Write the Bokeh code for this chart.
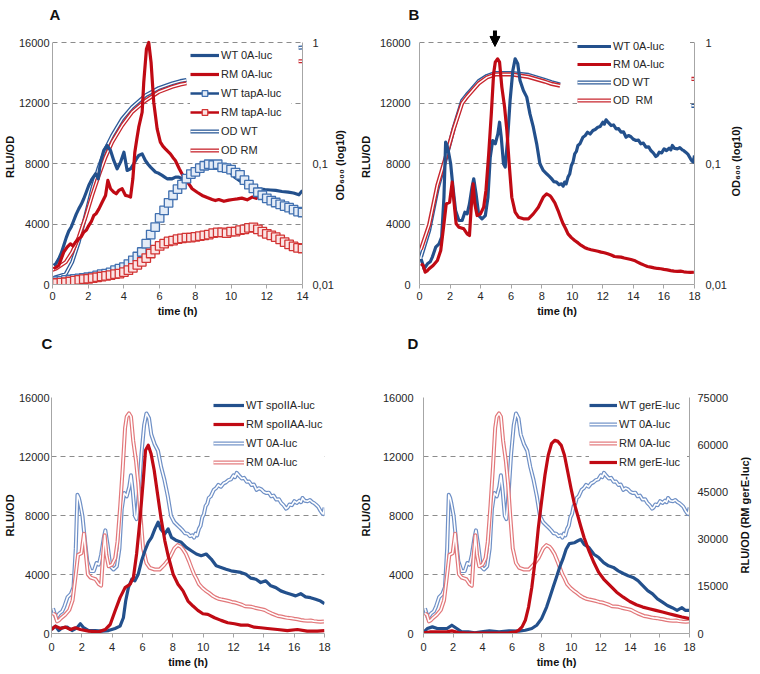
from bokeh.plotting import figure
from bokeh.models import (Range1d, LinearAxis, LogAxis, LogScale, FixedTicker, Legend,
                          LegendItem, Arrow, NormalHead, NumeralTickFormatter, CustomJSTickFormatter)
from bokeh.layouts import row, column
from bokeh.embed import file_html
from bokeh.resources import INLINE
import math

NAN = float("nan")

# ---------------- data ----------------
Y_TICKS = [0, 4000, 8000, 12000, 16000]
GRID_TICKS = [4000, 8000, 12000, 16000]
X_TICKS_A = [0, 2, 4, 6, 8, 10, 12, 14]
X_TICKS_18 = [0, 2, 4, 6, 8, 10, 12, 14, 16, 18]
OD_TICKS = [0.01, 0.1, 1]
R_TICKS_D = [0, 15000, 30000, 45000, 60000, 75000]

# Panel A
A_WT0A_T = [0.07,0.2,0.35,0.5,0.63,0.77,0.91,1.05,1.19,1.33,1.47,1.61,1.75,1.89,2.03,2.22,2.41,2.56,2.69,2.87,
            3.06,3.25,3.43,3.62,3.81,4.0,4.18,4.37,4.55,4.7,4.83,5.02,5.2,5.35,5.49,5.63,5.77,5.95,6.14,6.28,
            6.42,6.56,6.7,6.89,7.07,7.26,7.5,7.8,8.1,8.4,8.7,9.0,9.3,9.6,9.9,10.2,10.6,10.9,11.2,11.55,
            11.9,12.2,12.5,12.85,13.2,13.5,13.8,14.0]
A_WT0A = [1260,1400,1700,2100,2580,3100,3530,3800,4230,4650,5000,5300,5670,6100,6550,6990,7320,6990,8090,8860,
          9190,8860,8200,7650,8090,8750,7540,7650,7980,8300,8530,8640,8200,7950,7760,7600,7430,7350,7210,7100,
          6990,7000,6990,7100,7100,6990,7050,7150,7300,7650,7800,7900,7870,7750,7500,7100,6770,6550,6450,6330,
          6280,6250,6220,6150,6110,6050,5930,6220]
A_RM0A_T = [0.07,0.35,0.63,0.82,1.0,1.15,1.29,1.47,1.6,1.75,1.9,2.03,2.17,2.31,2.45,2.6,2.78,2.97,3.1,3.25,
            3.43,3.57,3.71,3.9,4.09,4.23,4.37,4.5,4.61,4.72,4.83,5.02,5.11,5.26,5.39,5.52,5.67,5.86,6.04,6.18,
            6.32,6.46,6.6,6.74,6.88,7.1,7.3,7.55,7.82,8.1,8.38,8.66,8.94,9.12,9.31,9.6,9.87,10.1,10.35,10.6,
            10.9,11.18,11.4,11.55,11.8]
A_RM0A = [1040,1260,2140,2470,2690,2550,2800,3020,3150,3460,3600,3900,4150,4560,4700,5000,5440,5890,6880,6330,
          6110,6000,6220,6330,5890,5850,5780,6990,8750,9600,10400,11390,13370,15570,16000,14690,12040,10290,9410,9150,
          8970,8800,8640,8400,8200,7650,7200,6800,6330,6100,5890,5750,5620,5550,5620,5500,5580,5620,5660,5710,
          5600,5780,5700,5890,5850]
SQ_T = [0,0.25,0.5,0.75,1,1.25,1.5,1.75,2,2.25,2.5,2.75,3,3.25,3.5,3.75,4,4.25,4.5,4.75,5,5.25,5.5,5.75,6,6.25,
        6.5,6.75,7,7.25,7.5,7.75,8,8.25,8.5,8.75,9,9.25,9.5,9.75,10,10.25,10.5,10.75,11,11.25,11.5,11.75,12,12.25,
        12.5,12.75,13,13.25,13.5,13.75,14]
A_WT_TAPA = [200,220,240,300,330,370,400,430,480,520,600,680,720,800,950,1050,1150,1350,1600,1850,
             2150,2700,3300,3800,4400,4900,5400,5900,6300,6600,7000,7300,7450,7700,7850,7950,7900,7950,7750,7700,
             7600,7400,7250,6900,6600,6350,6100,5900,5700,5550,5420,5300,5180,5080,4950,4820,4760]
A_RM_TAPA = [50,100,120,150,200,250,300,350,380,420,480,530,570,620,680,720,820,950,1100,1300,
             1500,1750,2050,2300,2550,2700,2850,2900,3000,3050,3100,3100,3150,3200,3250,3300,3400,3450,3450,3400,
             3500,3500,3600,3650,3750,3780,3650,3500,3350,3250,3130,2980,2800,2650,2520,2420,2380]
# OD traces: visible left of the legend, and again at the right frame edge
A_OD_T = [0.0,0.18,0.74,1.1,1.47,1.85,2.22,2.59,2.97,3.34,3.9,4.45,5.2,5.95,6.7,7.16,7.5,NAN,13.78,14]
A_OD_WT = [0.0112,0.0115,0.0122,0.0153,0.0224,0.0372,0.0617,0.0932,0.132,0.17,0.234,0.292,0.365,0.42,0.46,0.48,
           0.49,NAN,0.905,0.91]
A_OD_RM = [0.0132,0.0135,0.0153,0.0185,0.0246,0.036,0.0545,0.0794,0.113,0.15,0.206,0.265,0.33,0.39,0.43,0.45,
           0.46,NAN,0.70,0.70]

# Panels B, C, D (shared 0A-luc traces)
WT0A_T = [0.1,0.3,0.52,0.7,0.84,1.06,1.28,1.45,1.6,1.71,1.8,1.88,2.04,2.19,2.36,2.58,2.79,2.97,3.12,3.27,
          3.44,3.55,3.7,3.88,4.09,4.31,4.48,4.63,4.79,4.96,5.13,5.24,5.35,5.5,5.61,5.76,5.93,6.11,6.26,6.43,
          6.58,6.8,7.02,7.23,7.45,7.67,7.88,8.1,8.32,8.5,8.64,8.8,8.97,9.13,9.29,9.4,9.5,9.6,9.72,9.83,
          9.94,10.05,10.16,10.27,10.37,10.5,10.7,10.85,11.0,11.17,11.35,11.5,11.67,11.83,12.0,12.1,12.21,12.37,12.54,12.7,
          12.87,13.03,13.19,13.35,13.52,13.68,13.84,14.0,14.17,14.33,14.49,14.65,14.82,15.0,15.14,15.3,15.47,15.58,15.69,15.85,
          16.01,16.17,16.34,16.45,16.55,16.7,16.88,17.04,17.2,17.3,17.42,17.58,17.74,17.85,17.92,18.0]
WT0A = [1700,1040,1370,1500,1810,2470,2690,3130,5770,9410,9200,8860,7980,6440,4890,4230,4230,4780,4670,5330,
        6440,6990,6000,4560,4340,4560,5770,8420,9520,9300,9960,10730,9740,7980,7760,9520,12170,14150,14920,14590,
        13490,12830,12390,11280,10400,9300,7980,7540,7320,7150,7000,6800,6770,6600,6660,6500,6770,6650,7100,7300,
        7870,8100,8640,8800,9190,9300,9740,9850,10070,9950,10180,10250,10400,10450,10730,10600,10890,10700,10510,10550,
        10290,10300,10070,10100,9740,9850,9770,9600,9520,9550,9300,9350,9080,9100,8860,8700,8460,8550,8750,8700,
        8970,8850,9010,8900,9190,9000,8970,9050,8900,8850,8750,8600,8310,8150,8100,8530]
RM0A_T = [0.1,0.24,0.37,0.5,0.63,0.89,1.17,1.39,1.6,1.75,1.97,2.14,2.25,2.4,2.58,2.9,3.12,3.27,3.4,3.51,
          3.62,3.77,3.99,4.2,4.35,4.53,4.7,4.85,4.96,5.11,5.24,5.39,5.57,5.72,5.87,6.04,6.26,6.48,6.8,7.13,
          7.45,7.78,8.1,8.32,8.53,8.64,8.86,9.07,9.23,9.4,9.56,9.72,9.94,10.16,10.38,10.59,10.8,11.0,11.23,11.46,
          11.68,11.89,12.1,12.32,12.55,12.76,12.98,13.19,13.4,13.62,13.84,14.06,14.27,14.49,14.7,14.92,15.14,15.36,15.57,15.79,
          16.0,16.22,16.44,16.66,16.88,17.09,17.3,17.52,17.74,17.96]
RM0A = [1370,1260,820,900,1040,1260,1590,2250,4010,5330,5440,6770,5550,4010,3790,3680,3350,3240,5330,6660,
        5330,4560,4670,5110,6220,8640,11280,13930,14700,14920,14700,13050,11720,10180,7980,5770,4780,4450,4340,4340,
        4670,5110,5770,5990,5880,5750,5400,4890,4450,4010,3700,3350,3100,2910,2750,2580,2450,2360,2300,2250,
        2200,2140,2100,2030,1950,1850,1830,1810,1750,1700,1650,1590,1480,1370,1280,1190,1150,1100,1060,1040,
        1000,970,920,880,870,880,840,810,800,810]
B_OD_T = [0.09,0.63,1.17,1.71,2.25,2.79,3.1,3.34,3.88,4.42,4.96,6.04,7.13,8.21,8.65,9.2,NAN,17.8,18]
B_OD_WT = [0.0168,0.028,0.061,0.108,0.198,0.33,0.37,0.40,0.48,0.53,0.56,0.56,0.54,0.49,0.47,0.45,NAN,0.30,0.30]
B_OD_RM = [0.0195,0.031,0.066,0.112,0.195,0.315,0.355,0.385,0.46,0.515,0.545,0.545,0.52,0.475,0.455,0.44,NAN,0.50,0.50]
ARROW_T = 4.94
ARROW_Y = [16790, 15740]

C_WTSPO_T = [0,0.26,0.48,0.7,1.03,1.35,1.68,1.9,2.12,2.45,2.88,3.32,3.76,4.19,4.52,4.74,4.89,5.07,5.29,5.5,
             5.72,5.94,6.16,6.38,6.6,6.82,7.03,7.2,7.47,7.69,7.91,8.24,8.56,8.89,9.22,9.55,9.87,10.2,10.53,10.86,
             11.18,11.51,11.84,12.16,12.49,12.82,13.15,13.48,13.8,14.13,14.46,14.79,15.12,15.45,15.77,16.1,16.43,16.75,17.08,17.41,
             17.74,18.0]
C_WTSPO = [270,500,200,390,430,200,390,660,390,200,200,160,200,340,500,1070,2200,3110,3680,3570,
           4020,4930,5610,6180,6520,7090,7550,7090,6750,7090,6520,6300,6180,5840,5610,5390,5270,5390,5050,4590,
           4480,4360,4250,4200,4140,4020,3750,3680,3450,3570,3230,3110,2890,2770,2660,2550,2700,2480,2430,2320,
           2200,2020]
C_RMSPO_T = [0,0.26,0.59,0.92,1.25,1.57,1.9,2.45,3.1,3.54,3.87,4.19,4.52,4.85,5.18,5.4,5.61,5.83,6.05,6.2,
             6.38,6.56,6.77,6.99,7.21,7.47,7.69,8.02,8.34,8.67,9.0,9.33,9.65,9.98,10.31,10.75,11.18,11.62,12.06,12.49,
             12.93,13.37,13.8,14.24,14.9,15.55,16.21,16.86,17.52,18.0]
C_RMSPO = [270,500,340,430,270,390,270,160,110,270,610,1520,2430,3110,3340,3800,5390,7660,10390,12430,
           12770,12210,11070,9480,7890,6300,5270,4020,3340,2890,2200,1860,1570,1340,1300,1070,890,730,660,570,
           570,430,390,340,270,200,270,160,160,200]

D_WTGER_T = [0.04,0.26,0.6,0.93,1.26,1.59,1.92,2.25,2.58,3.03,3.47,3.91,4.46,5.12,5.79,6.45,6.89,7.33,7.66,7.99,
             8.33,8.55,8.77,8.99,9.21,9.43,9.65,9.87,10.2,10.42,10.64,10.87,11.2,11.53,11.86,12.19,12.52,12.85,13.18,13.52,
             13.85,14.18,14.51,14.84,15.17,15.5,15.83,16.17,16.5,16.83,17.16,17.49,17.71,18.0]
D_WTGER = [110,340,450,340,340,340,560,340,110,110,45,110,180,110,180,160,220,340,560,1010,
           1790,2460,3130,3800,4480,5040,5710,6090,6150,6270,6380,6040,5820,5370,5150,4810,4590,4480,4250,4070,
           3920,3800,3580,3250,2910,2690,2350,2130,1900,1750,1570,1750,1570,1570]
D_RMGER_T = [0.04,0.49,0.93,1.59,1.92,2.36,2.92,3.8,4.9,5.79,6.23,6.45,6.67,6.89,7.11,7.33,7.55,7.77,7.99,8.22,
             8.44,8.66,8.88,9.1,9.32,9.54,9.76,9.98,10.2,10.42,10.64,10.87,11.2,11.53,11.86,12.19,12.63,13.07,13.52,13.96,
             14.4,14.84,15.28,15.72,16.17,16.61,17.05,17.49,18.0]
D_RMGER = [210,520,520,520,840,310,100,100,100,210,520,1050,2100,4200,8390,14690,23080,33570,41960,50350,
           56650,60320,61370,61050,59790,56650,51400,46160,41440,37760,34090,30420,26230,22550,19410,17310,15210,13110,11540,10180,
           9130,8390,7870,7340,6820,6290,5770,5250,4720]

# ---------------- style ----------------
FONT = "Liberation Sans"
BLUE = "#23508C"
RED = "#C00A14"
OD_BLUE = "#2E5C9A"
OD_RED = "#C8262E"
LT_BLUE = "#6F90C6"
LT_RED = "#E2777A"
SQ_BLUE_LINE = "#4170B0"
SQ_BLUE_FILL = "#E4ECF7"
SQ_RED_LINE = "#D23434"
SQ_RED_FILL = "#FBE4E4"
GRID = "#8C8C8C"
AXIS = "#A6A6A6"
TXT = "#262626"
LBL = "#111111"


def style_axis(ax, tick_out, standoff, label=None, label_standoff=0):
    ax.axis_line_color = AXIS
    ax.major_tick_line_color = AXIS
    ax.major_tick_out = tick_out
    ax.major_tick_in = 0
    ax.minor_tick_line_color = None
    ax.major_label_standoff = standoff
    ax.major_label_text_font = FONT
    ax.major_label_text_font_size = "11px"
    ax.major_label_text_color = TXT
    if label is not None:
        ax.axis_label = label
        ax.axis_label_standoff = label_standoff
        ax.axis_label_text_font = FONT
        ax.axis_label_text_font_size = "11px"
        ax.axis_label_text_font_style = "bold"
        ax.axis_label_text_color = LBL


def make_fig(w, h, xmax, ytop, lb, rb, tb, bb, xstand, ystand, yls, xls, xticks):
    p = figure(width=w, height=h, x_range=Range1d(0, xmax), y_range=Range1d(0, ytop),
               output_backend="svg", toolbar_location=None,
               min_border_left=lb, min_border_right=rb, min_border_top=tb, min_border_bottom=bb)
    p.outline_line_color = None
    p.background_fill_color = "white"
    p.border_fill_color = "white"
    p.xgrid.visible = False
    p.ygrid.ticker = FixedTicker(ticks=GRID_TICKS)
    p.ygrid.grid_line_color = GRID
    p.ygrid.grid_line_dash = "5 4"
    p.xaxis.ticker = FixedTicker(ticks=xticks)
    p.yaxis.ticker = FixedTicker(ticks=Y_TICKS)
    p.yaxis.formatter = NumeralTickFormatter(format="0")
    p.yaxis.bounds = (0, 16000)
    style_axis(p.xaxis[0], 4, xstand, "time (h)", xls)
    style_axis(p.yaxis[0], 0, ystand, "RLU/OD", yls)
    return p


def letter(p, text, offset, standoff, nlines, line_height):
    p.title.text = text + "\n\u00a0" * (nlines - 1)
    p.title.align = "left"
    p.title.offset = offset
    p.title.standoff = standoff
    p.title.vertical_align = "top"
    p.title.text_font = FONT
    p.title.text_font_size = "15px"
    p.title.text_font_style = "bold"
    p.title.text_color = LBL
    p.title.text_line_height = line_height


def add_od_axis(p, standoff, od_top):
    p.extra_y_ranges = {"od": Range1d(0.01, od_top)}
    p.extra_y_scales = {"od": LogScale()}
    ax = LogAxis(y_range_name="od", ticker=FixedTicker(ticks=OD_TICKS), bounds=(0.01, 1),
                 formatter=CustomJSTickFormatter(code="return tick > 0.5 ? '1' : (tick > 0.05 ? '0,1' : '0,01');"))
    style_axis(ax, 0, standoff)
    p.add_layout(ax, "right")


def label_axis(p, text, start_value, standoff):
    # tick-less right axis whose single tick label is the bottom-to-top axis title,
    # starting at start_value (in the primary y units)
    ax = LinearAxis(ticker=FixedTicker(ticks=[start_value]),
                    formatter=CustomJSTickFormatter(code="return %r;" % text))
    style_axis(ax, 0, standoff)
    ax.axis_line_color = None
    ax.major_tick_line_color = None
    ax.major_label_orientation = math.pi / 2
    ax.major_label_text_font_style = "bold"
    ax.major_label_text_color = LBL
    p.add_layout(ax, "right")


def dline(p, t, v, color, w_out, w_in, **kw):
    r1 = p.line(t, v, line_color=color, line_width=w_out, line_join="round", **kw)
    r2 = p.line(t, v, line_color="white", line_width=w_in, line_join="round", **kw)
    return [r1, r2]


def add_legend(p, items, loc, pad, gw, gh, lw, spacing):
    lg = Legend(items=[LegendItem(label=l, renderers=r) for l, r in items], location=loc,
                padding=pad, spacing=spacing, glyph_width=gw, glyph_height=gh, label_height=gh,
                label_width=lw, label_standoff=2, label_text_font=FONT, label_text_font_size="11px",
                label_text_color=TXT, background_fill_color="white", background_fill_alpha=1.0,
                border_line_color=None, margin=0)
    p.add_layout(lg)


OD_LABEL = "OD\u2086\u2080\u2080 (log10)"
TOP_YMAX = 16860      # frames of the top row reach y=29 so the arrow above the 16000 line fits
TOP_ODMAX = 1.281

# ---------------- Panel A ----------------
pA = make_fig(356, 320, 14, TOP_YMAX, 52, 54, 29, 36, 3, 3, 0, 2, X_TICKS_A)
add_od_axis(pA, 10, TOP_ODMAX)
label_axis(pA, OD_LABEL, 5554, 4)
letter(pA, "A", -3, 10, 1, 1.0)
odw = dline(pA, A_OD_T, A_OD_WT, OD_BLUE, 4, 1.4, y_range_name="od")
odr = dline(pA, A_OD_T, A_OD_RM, OD_RED, 4, 1.4, y_range_name="od")
a1 = pA.line(A_WT0A_T, A_WT0A, line_color=BLUE, line_width=3.2, line_join="round")
a2 = pA.line(A_RM0A_T, A_RM0A, line_color=RED, line_width=3.2, line_join="round")
a3l = pA.line(SQ_T, A_WT_TAPA, line_color=BLUE, line_width=2.5)
a3s = pA.scatter(SQ_T, A_WT_TAPA, marker="square", size=8.5, fill_color=SQ_BLUE_FILL, line_color=SQ_BLUE_LINE, line_width=1.3)
a4l = pA.line(SQ_T, A_RM_TAPA, line_color=RED, line_width=2.5)
a4s = pA.scatter(SQ_T, A_RM_TAPA, marker="square", size=8.5, fill_color=SQ_RED_FILL, line_color=SQ_RED_LINE, line_width=1.3)
add_legend(pA, [("WT 0A-luc", [a1]), ("RM 0A-luc", [a2]), ("WT tapA-luc", [a3l, a3s]),
                ("RM tapA-luc", [a4l, a4s]), ("OD WT", odw), ("OD RM", odr)],
           (138, 127), 3, 29, 14, 70, 5)

# ---------------- Panel B ----------------
pB = make_fig(404, 320, 18, TOP_YMAX, 61, 66, 29, 36, 3, 9, 5, 2, X_TICKS_18)
add_od_axis(pB, 11, TOP_ODMAX)
label_axis(pB, OD_LABEL, 5818, 7)
letter(pB, "B", -11, 10, 1, 1.0)
bodw = dline(pB, B_OD_T, B_OD_WT, OD_BLUE, 4.2, 1.4, y_range_name="od")
bodr = dline(pB, B_OD_T, B_OD_RM, OD_RED, 4.2, 1.4, y_range_name="od")
b1 = pB.line(WT0A_T, WT0A, line_color=BLUE, line_width=3.2, line_join="round")
b2 = pB.line(RM0A_T, RM0A, line_color=RED, line_width=3.2, line_join="round")
add_legend(pB, [("WT 0A-luc", [b1]), ("RM 0A-luc", [b2]), ("OD WT", bodw), ("OD  RM", bodr)],
           (158, 178), 1, 34, 12, 77, 6)
pB.add_layout(Arrow(end=NormalHead(size=10, fill_color="black", line_color="black", line_width=1),
                    x_start=ARROW_T, y_start=ARROW_Y[0], x_end=ARROW_T, y_end=ARROW_Y[1],
                    line_width=4, line_color="black"))

# ---------------- Panel C ----------------
pC = make_fig(356, 354, 18, 16000, 49, 32, 77, 41, 5, 2, 0, 2, X_TICKS_18)
letter(pC, "C", -10, 13, 3, 1.1)
cw0 = dline(pC, WT0A_T, WT0A, LT_BLUE, 4, 1.6)
cr0 = dline(pC, RM0A_T, RM0A, LT_RED, 4, 1.6)
c1 = pC.line(C_WTSPO_T, C_WTSPO, line_color=BLUE, line_width=3.2, line_join="round")
c2 = pC.line(C_RMSPO_T, C_RMSPO, line_color=RED, line_width=3.2, line_join="round")
add_legend(pC, [("WT spoIIA-luc", [c1]), ("RM spoIIAA-luc", [c2]), ("WT 0A-luc", cw0), ("RM 0A-luc", cr0)],
           (162, 165), 1, 31, 12, 78, 7)

# ---------------- Panel D ----------------
pD = make_fig(404, 354, 18, 16000, 67, 66, 77, 41, 5, 10, 8, 2, X_TICKS_18)
letter(pD, "D", -16, 13, 3, 1.1)
pD.extra_y_ranges = {"r": Range1d(0, 75000)}
axr = LinearAxis(y_range_name="r", ticker=FixedTicker(ticks=R_TICKS_D), formatter=NumeralTickFormatter(format="0"))
style_axis(axr, 0, 8)
pD.add_layout(axr, "right")
label_axis(pD, "RLU/OD (RM gerE-luc)", 4068, 14)
dw0 = dline(pD, WT0A_T, WT0A, LT_BLUE, 4, 1.6)
dr0 = dline(pD, RM0A_T, RM0A, LT_RED, 4, 1.6)
d1 = pD.line(D_WTGER_T, D_WTGER, line_color=BLUE, line_width=3.2, line_join="round")
d2 = pD.line(D_RMGER_T, D_RMGER, line_color=RED, line_width=3.2, line_join="round", y_range_name="r")
add_legend(pD, [("WT gerE-luc", [d1]), ("WT 0A-luc", dw0), ("RM 0A-luc", dr0), ("RM gerE-luc", [d2])],
           (166, 165), 1, 28, 12, 68, 7)

layout = column(row(pA, pB), row(pC, pD))
open("out.html", "w").write(file_html(layout, INLINE))
